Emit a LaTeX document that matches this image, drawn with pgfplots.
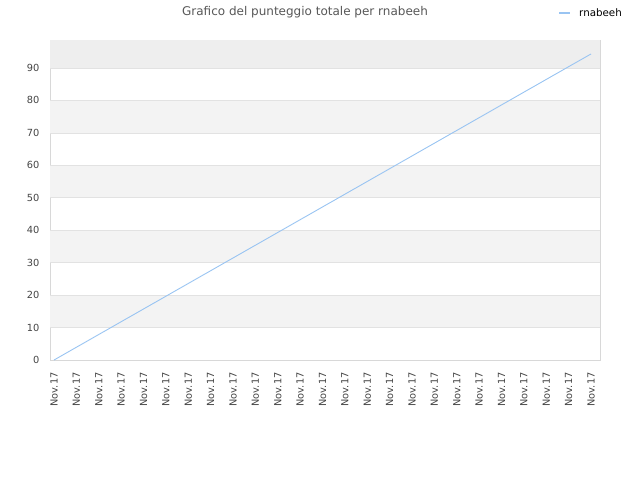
\documentclass[border=0pt]{standalone}
\usepackage{pgfplots}
\pgfplotsset{compat=1.18}
\usepackage{fontspec}
\setmainfont{DejaVu Sans}

\definecolor{bandgray}{HTML}{F3F3F3}
\definecolor{topgray}{HTML}{EEEEEE}
\definecolor{gridgray}{HTML}{E2E2E2}
\definecolor{framegray}{HTML}{D8D8D8}
\definecolor{textgray}{HTML}{444444}
\definecolor{linecol}{HTML}{99C4F2}

\begin{document}
\begin{tikzpicture}
\path[use as bounding box] (0pt,0pt) rectangle (640pt,480pt);

% title and legend
\node[font=\fontsize{12}{14}\selectfont, text=textgray!90] at (305pt,468pt) {Grafico del punteggio totale per rnabeeh};
\draw[linecol, line width=1.6pt] (559pt,467pt) -- (570pt,467pt);
\node[anchor=west, font=\fontsize{10.3}{11}\selectfont, text=black, inner sep=0pt] at (579pt,467.5pt) {rnabeeh};

\begin{axis}[
    at={(50pt,120pt)}, anchor=south west,
    scale only axis,
    width=550pt, height=320pt,
    xmin=-0.18, xmax=24.4,
    ymin=0, ymax=98.6,
    xtick={0,...,24},
    xticklabels={Nov.17,Nov.17,Nov.17,Nov.17,Nov.17,Nov.17,Nov.17,Nov.17,Nov.17,Nov.17,Nov.17,Nov.17,Nov.17,Nov.17,Nov.17,Nov.17,Nov.17,Nov.17,Nov.17,Nov.17,Nov.17,Nov.17,Nov.17,Nov.17,Nov.17},
    x tick label style={rotate=90, anchor=east, font=\fontsize{9.8}{11}\selectfont, text=textgray, xshift=-9pt},
    ytick={0,10,...,90},
    y tick label style={font=\fontsize{9.8}{11}\selectfont, text=textgray, xshift=-7pt},
    /pgf/number format/assume math mode=true,
    major tick length=0pt,
    axis line style={framegray, line width=0.8pt},
    clip=true,
]
% alternating background bands
\fill[bandgray] (axis cs:-0.18,10) rectangle (axis cs:24.4,20);
\fill[bandgray] (axis cs:-0.18,30) rectangle (axis cs:24.4,40);
\fill[bandgray] (axis cs:-0.18,50) rectangle (axis cs:24.4,60);
\fill[bandgray] (axis cs:-0.18,70) rectangle (axis cs:24.4,80);
\fill[topgray] (axis cs:-0.18,90) rectangle (axis cs:24.4,98.6);
% horizontal grid lines
\foreach \g in {10,20,...,90} {
    \edef\tmp{\noexpand\draw[gridgray, line width=0.6pt] (axis cs:-0.18,\g) -- (axis cs:24.4,\g);}
    \tmp
}

\addplot[linecol, line width=0.9pt] coordinates {
    (0,0) (1,3.93) (2,7.86) (3,11.79) (4,15.72) (5,19.65) (6,23.58) (7,27.51)
    (8,31.44) (9,35.37) (10,39.3) (11,43.23) (12,47.16) (13,51.09) (14,55.02)
    (15,58.95) (16,62.88) (17,66.81) (18,70.74) (19,74.67) (20,78.6) (21,82.53)
    (22,86.46) (23,90.39) (24,94.3)
};
\end{axis}
\end{tikzpicture}
\end{document}
